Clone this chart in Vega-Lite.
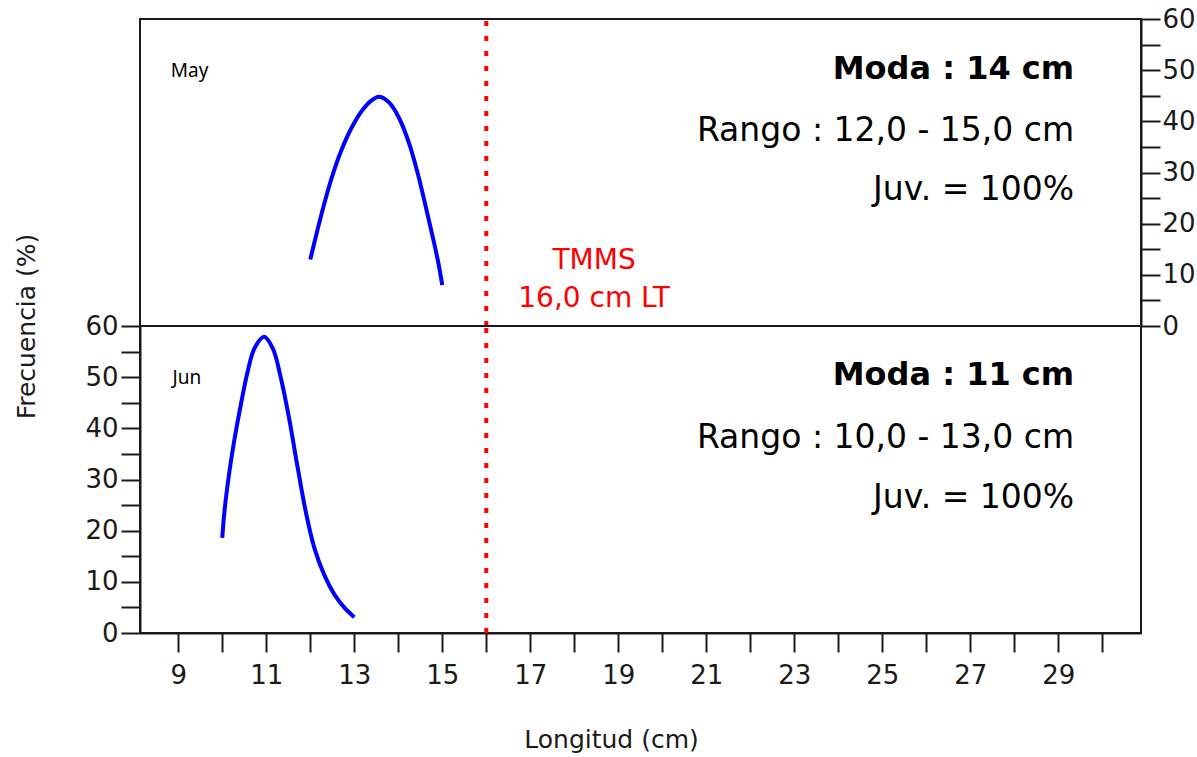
{
  "$schema": "https://vega.github.io/schema/vega-lite/v6.json",
  "background": "white",
  "padding": {"left": 12, "top": 5, "right": 5, "bottom": 5},
  "spacing": 0,
  "bounds": "flush",
  "config": {
    "view": {"stroke": "#1a1a1a", "strokeWidth": 2},
    "axis": {
      "domainColor": "#1a1a1a", "domainWidth": 2,
      "tickColor": "#1a1a1a", "tickWidth": 2, "tickSize": 19,
      "labelFont": "DejaVu Sans", "labelFontSize": 26, "labelColor": "#1a1a1a",
      "titleFont": "DejaVu Sans", "titleFontSize": 25, "titleFontWeight": "normal", "titleColor": "#1a1a1a",
      "grid": false
    }
  },
  "datasets": {
    "may": [
      {"longitud": 12.0, "frecuencia": 13.0},
      {"longitud": 12.15, "frecuencia": 18.3},
      {"longitud": 12.32, "frecuencia": 24.0},
      {"longitud": 12.51, "frecuencia": 29.6},
      {"longitud": 12.70, "frecuencia": 34.2},
      {"longitud": 12.93, "frecuencia": 38.6},
      {"longitud": 13.16, "frecuencia": 41.9},
      {"longitud": 13.38, "frecuencia": 44.0},
      {"longitud": 13.57, "frecuencia": 44.8},
      {"longitud": 13.80, "frecuencia": 43.6},
      {"longitud": 14.02, "frecuencia": 40.6},
      {"longitud": 14.25, "frecuencia": 35.6},
      {"longitud": 14.44, "frecuencia": 29.9},
      {"longitud": 14.59, "frecuencia": 24.6},
      {"longitud": 14.74, "frecuencia": 19.0},
      {"longitud": 14.90, "frecuencia": 12.8},
      {"longitud": 15.0, "frecuencia": 8.0}
    ],
    "jun": [
      {"longitud": 10.0, "frecuencia": 18.6},
      {"longitud": 10.05, "frecuencia": 23.8},
      {"longitud": 10.16, "frecuencia": 31.4},
      {"longitud": 10.27, "frecuencia": 37.5},
      {"longitud": 10.43, "frecuencia": 45.0},
      {"longitud": 10.58, "frecuencia": 51.2},
      {"longitud": 10.73, "frecuencia": 55.6},
      {"longitud": 10.95, "frecuencia": 57.9},
      {"longitud": 11.15, "frecuencia": 55.6},
      {"longitud": 11.33, "frecuencia": 49.9},
      {"longitud": 11.52, "frecuencia": 41.9},
      {"longitud": 11.71, "frecuencia": 32.5},
      {"longitud": 11.90, "frecuencia": 23.6},
      {"longitud": 12.09, "frecuencia": 16.7},
      {"longitud": 12.32, "frecuencia": 11.3},
      {"longitud": 12.55, "frecuencia": 7.5},
      {"longitud": 12.78, "frecuencia": 4.9},
      {"longitud": 13.0, "frecuencia": 3.1}
    ],
    "tmms": [
      {"longitud": 16, "frecuencia": 0, "tope": 60}
    ],
    "anotaciones": [
      {"panel": "May", "tipo": "mes", "longitud": 8.83, "frecuencia": 49.8, "label": "May"},
      {"panel": "May", "tipo": "moda", "longitud": 29.36, "frecuencia": 50.2, "label": "Moda : 14 cm"},
      {"panel": "May", "tipo": "info", "longitud": 29.36, "frecuencia": 38.1, "label": "Rango : 12,0 - 15,0 cm"},
      {"panel": "May", "tipo": "info", "longitud": 29.36, "frecuencia": 26.6, "label": "Juv. = 100%"},
      {"panel": "May", "tipo": "tmms", "longitud": 18.45, "frecuencia": 12.7, "label": "TMMS"},
      {"panel": "May", "tipo": "tmms", "longitud": 18.45, "frecuencia": 5.3, "label": "16,0 cm LT"},
      {"panel": "Jun", "tipo": "mes", "longitud": 8.87, "frecuencia": 49.8, "label": "Jun"},
      {"panel": "Jun", "tipo": "moda", "longitud": 29.36, "frecuencia": 50.4, "label": "Moda : 11 cm"},
      {"panel": "Jun", "tipo": "info", "longitud": 29.36, "frecuencia": 38.1, "label": "Rango : 10,0 - 13,0 cm"},
      {"panel": "Jun", "tipo": "info", "longitud": 29.36, "frecuencia": 26.4, "label": "Juv. = 100%"}
    ]
  },
  "vconcat": [
    {
      "width": 1001,
      "height": 307,
      "encoding": {
        "x": {"field": "longitud", "type": "quantitative", "scale": {"domain": [8.13, 30.88], "nice": false, "zero": false}, "axis": null},
        "y": {"field": "frecuencia", "type": "quantitative", "scale": {"domain": [0, 60], "nice": false, "zero": false},
              "axis": {"orient": "right", "title": null, "values": [0, 5, 10, 15, 20, 25, 30, 35, 40, 45, 50, 55, 60],
                       "labelExpr": "datum.value % 10 == 0 ? datum.label : ''", "labelPadding": 2, "labelFlush": false, "labelOverlap": false}}
      },
      "layer": [
        {"data": {"name": "tmms"}, "mark": {"type": "rule", "color": "#ff0000", "strokeWidth": 4, "strokeDash": [5, 10]},
         "encoding": {"y2": {"field": "tope"}}},
        {"data": {"name": "may"}, "mark": {"type": "line", "color": "#0000ff", "strokeWidth": 4, "interpolate": "catmull-rom"}},
        {"data": {"name": "anotaciones"}, "transform": [{"filter": "datum.panel == 'May' && datum.tipo == 'mes'"}],
         "mark": {"type": "text", "align": "left", "baseline": "middle", "font": "Noto Sans", "fontSize": 19, "color": "#000000"},
         "encoding": {"text": {"field": "label"}}},
        {"data": {"name": "anotaciones"}, "transform": [{"filter": "datum.panel == 'May' && datum.tipo == 'moda'"}],
         "mark": {"type": "text", "align": "right", "baseline": "middle", "font": "DejaVu Sans", "fontSize": 32, "fontWeight": "bold", "color": "#000000"},
         "encoding": {"text": {"field": "label"}}},
        {"data": {"name": "anotaciones"}, "transform": [{"filter": "datum.panel == 'May' && datum.tipo == 'info'"}],
         "mark": {"type": "text", "align": "right", "baseline": "middle", "font": "DejaVu Sans", "fontSize": 33, "color": "#000000"},
         "encoding": {"text": {"field": "label"}}},
        {"data": {"name": "anotaciones"}, "transform": [{"filter": "datum.panel == 'May' && datum.tipo == 'tmms'"}],
         "mark": {"type": "text", "align": "center", "baseline": "middle", "font": "DejaVu Sans", "fontSize": 28, "color": "#ff0000"},
         "encoding": {"text": {"field": "label"}}}
      ]
    },
    {
      "width": 1001,
      "height": 307,
      "encoding": {
        "x": {"field": "longitud", "type": "quantitative", "scale": {"domain": [8.13, 30.88], "nice": false, "zero": false},
              "axis": {"orient": "bottom", "title": "Longitud (cm)", "values": [9, 10, 11, 12, 13, 14, 15, 16, 17, 18, 19, 20, 21, 22, 23, 24, 25, 26, 27, 28, 29, 30],
                       "labelExpr": "datum.value % 2 == 1 ? datum.label : ''", "labelPadding": 10, "labelFlush": false, "labelOverlap": false,
                       "titleX": 471, "titleY": 106, "titleAlign": "center", "titleBaseline": "middle"}},
        "y": {"field": "frecuencia", "type": "quantitative", "scale": {"domain": [0, 60], "nice": false, "zero": false},
              "axis": {"orient": "left", "title": "Frecuencia (%)", "values": [0, 5, 10, 15, 20, 25, 30, 35, 40, 45, 50, 55, 60],
                       "labelExpr": "datum.value % 10 == 0 ? datum.label : ''", "labelPadding": 3, "labelFlush": false, "labelOverlap": false,
                       "titleX": -114, "titleY": 0, "titleAngle": 270, "titleAlign": "center", "titleBaseline": "middle"}}
      },
      "layer": [
        {"data": {"name": "tmms"}, "mark": {"type": "rule", "color": "#ff0000", "strokeWidth": 4, "strokeDash": [5, 10]},
         "encoding": {"y2": {"field": "tope"}}},
        {"data": {"name": "jun"}, "mark": {"type": "line", "color": "#0000ff", "strokeWidth": 4, "interpolate": "catmull-rom"}},
        {"data": {"name": "anotaciones"}, "transform": [{"filter": "datum.panel == 'Jun' && datum.tipo == 'mes'"}],
         "mark": {"type": "text", "align": "left", "baseline": "middle", "font": "Noto Sans", "fontSize": 19, "color": "#000000"},
         "encoding": {"text": {"field": "label"}}},
        {"data": {"name": "anotaciones"}, "transform": [{"filter": "datum.panel == 'Jun' && datum.tipo == 'moda'"}],
         "mark": {"type": "text", "align": "right", "baseline": "middle", "font": "DejaVu Sans", "fontSize": 32, "fontWeight": "bold", "color": "#000000"},
         "encoding": {"text": {"field": "label"}}},
        {"data": {"name": "anotaciones"}, "transform": [{"filter": "datum.panel == 'Jun' && datum.tipo == 'info'"}],
         "mark": {"type": "text", "align": "right", "baseline": "middle", "font": "DejaVu Sans", "fontSize": 33, "color": "#000000"},
         "encoding": {"text": {"field": "label"}}}
      ]
    }
  ]
}
